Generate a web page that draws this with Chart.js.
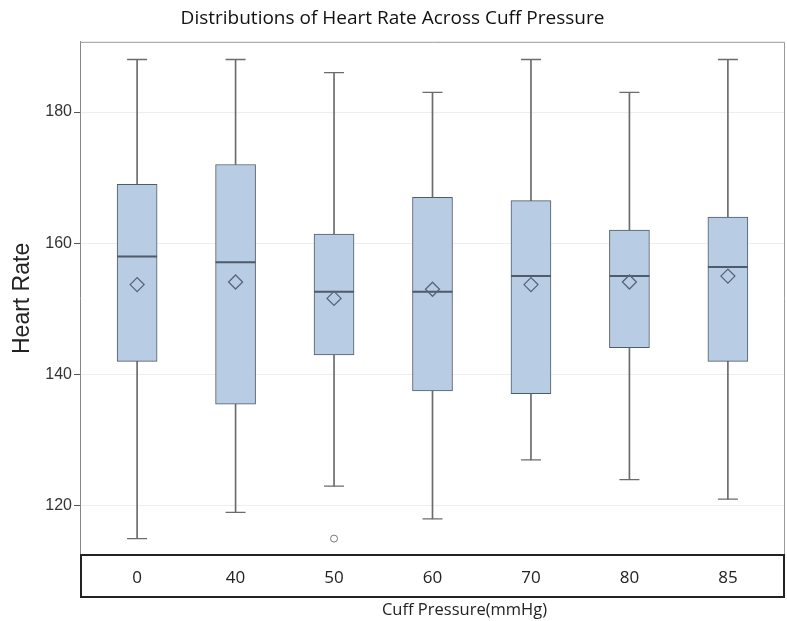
<!DOCTYPE html>
<html>
<head>
<meta charset="utf-8">
<script src="https://cdn.jsdelivr.net/npm/chart.js@4.4.1/dist/chart.umd.min.js"></script>
<style>
  html, body { margin: 0; padding: 0; background: #fff; }
</style>
</head>
<body>
<canvas id="hr-box-chart" width="787" height="621"></canvas>
<script>
// cuff pressure groups (mmHg)
const pressures = ['0', '40', '50', '60', '70', '80', '85'];
// box plot stats for heart rate, per group
const whiskerLow  = [115, 119, 123, 118, 127, 124, 121];
const q1          = [142, 135.5, 143, 137.5, 137.1, 144.1, 142];
const medians     = [158, 157.1, 152.6, 152.6, 155, 155, 156.4];
const q3          = [169, 172, 161.4, 167, 166.5, 162, 164];
const whiskerHigh = [188, 188, 186, 183, 188, 183, 188];
const means       = [153.7, 154.1, 151.6, 153, 153.7, 154.1, 155];
const outlierGroup = [2];
const outlierValue = [115];
const yTicks = [120, 140, 160, 180];

const boxFill = '#b8cce4';
const boxLine = '#4f5a6a';
const whiskerColor = '#6b6b6b';

const xAxisBox = {
  id: 'xAxisBox',
  afterDraw(chart) {
    const { ctx, chartArea: a } = chart;
    ctx.save();
    // plot frame (top / right)
    ctx.strokeStyle = '#9a9a9a';
    ctx.lineWidth = 1;
    ctx.beginPath();
    ctx.moveTo(a.left, a.top + 0.5);
    ctx.lineTo(a.right - 0.5, a.top + 0.5);
    ctx.lineTo(a.right - 0.5, a.bottom);
    ctx.stroke();
    // box around the category labels
    ctx.strokeStyle = '#222';
    ctx.lineWidth = 2;
    ctx.strokeRect(a.left + 1, a.bottom, a.right - a.left - 2, 42);
    // axis title
    ctx.fillStyle = '#222';
    ctx.font = '16.5px "Open Sans"';
    ctx.textAlign = 'center';
    ctx.textBaseline = 'middle';
    ctx.fillText('Cuff Pressure(mmHg)', (a.left + a.right) / 2 + 32, a.bottom + 55);
    ctx.restore();
  }
};

const chartInit = () => {
  var ctx = document.getElementById('hr-box-chart').getContext('2d');
  var myChart = new Chart(ctx, {
    type: 'bar',
    data: {
      datasets: [
        {
          label: 'lower whisker',
          data: pressures.map((p, i) => ({ x: i, y: [whiskerLow[i], q1[i]] })),
          backgroundColor: whiskerColor,
          barThickness: 1,
          grouped: false,
          order: 6
        },
        {
          label: 'upper whisker',
          data: pressures.map((p, i) => ({ x: i, y: [q3[i], whiskerHigh[i]] })),
          backgroundColor: whiskerColor,
          barThickness: 1,
          grouped: false,
          order: 6
        },
        {
          label: 'box',
          data: pressures.map((p, i) => ({ x: i, y: [q1[i], q3[i]] })),
          backgroundColor: boxFill,
          borderColor: boxLine,
          borderWidth: 1,
          borderSkipped: false,
          barThickness: 40,
          grouped: false,
          order: 5
        },
        {
          type: 'scatter',
          label: 'caps',
          data: pressures.map((p, i) => ({ x: i, y: whiskerLow[i] }))
            .concat(pressures.map((p, i) => ({ x: i, y: whiskerHigh[i] }))),
          pointStyle: 'line',
          pointRadius: 10,
          borderColor: whiskerColor,
          borderWidth: 1.3,
          order: 4
        },
        {
          type: 'scatter',
          label: 'median',
          data: pressures.map((p, i) => ({ x: i, y: medians[i] })),
          pointStyle: 'line',
          pointRadius: 20,
          borderColor: boxLine,
          borderWidth: 2,
          order: 3
        },
        {
          type: 'scatter',
          label: 'mean',
          data: pressures.map((p, i) => ({ x: i, y: means[i] })),
          pointStyle: 'rectRot',
          pointRadius: 7,
          backgroundColor: 'rgba(0,0,0,0)',
          borderColor: '#56657d',
          borderWidth: 1.3,
          order: 2
        },
        {
          type: 'scatter',
          label: 'outlier',
          data: outlierGroup.map((g, i) => ({ x: g, y: outlierValue[i] })),
          pointStyle: 'circle',
          pointRadius: 3.5,
          backgroundColor: '#fff',
          borderColor: '#777',
          borderWidth: 1,
          order: 1
        }
      ]
    },
    options: {
      responsive: false,
      animation: false,
      layout: { autoPadding: false, padding: { left: 0, right: 2, top: 0, bottom: 0 } },
      plugins: {
        legend: { display: false },
        tooltip: { enabled: false },
        title: {
          display: true,
          text: 'Distributions of Heart Rate Across Cuff Pressure',
          color: '#111',
          font: { family: 'Open Sans', size: 19, weight: 'normal', lineHeight: 1.2 },
          padding: { top: 7, bottom: 12 }
        }
      },
      scales: {
        x: {
          type: 'linear',
          min: -0.58,
          max: 6.58,
          offset: false,
          grid: { display: false },
          border: { display: false },
          afterBuildTicks: (scale) => {
            scale.ticks = pressures.map((p, i) => ({ value: i }));
          },
          afterFit: (scale) => {
            scale.height = 66;
            scale.paddingLeft = 0;
            scale.paddingRight = 0;
          },
          ticks: {
            callback: (v) => pressures[v],
            color: '#222',
            font: { family: 'Open Sans', size: 17 },
            padding: 5,
            maxRotation: 0
          }
        },
        y: {
          min: 112.5,
          max: 190.7,
          afterBuildTicks: (scale) => {
            scale.ticks = yTicks.map(v => ({ value: v }));
          },
          afterFit: (scale) => { scale.width = 80; },
          grid: { color: '#eeeeee', tickColor: '#555', tickLength: 6 },
          border: { color: '#888' },
          ticks: {
            color: '#333',
            font: { family: 'Liberation Sans', size: 16 },
            padding: 2
          },
          title: {
            display: true,
            text: 'Heart Rate',
            color: '#222',
            font: { family: 'Liberation Sans', size: 23 },
            padding: { top: 9, bottom: 0 }
          }
        }
      }
    },
    plugins: [xAxisBox]
  });
};

chartInit();
</script>
</body>
</html>
